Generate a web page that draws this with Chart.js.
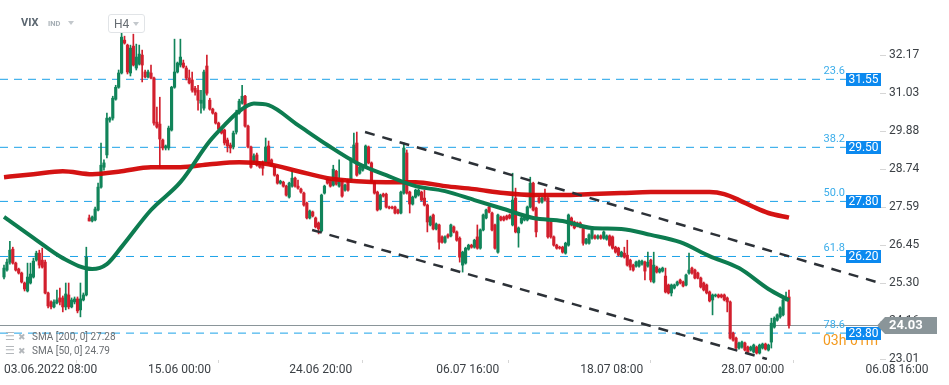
<!DOCTYPE html>
<html><head><meta charset="utf-8">
<script src="https://cdn.jsdelivr.net/npm/chart.js@4.4.0/dist/chart.umd.min.js"></script>
<style>
html,body{margin:0;padding:0;background:#fff;}
#wrap{position:relative;width:949px;height:385px;overflow:hidden;font-family:Roboto,"DejaVu Sans",sans-serif;}
#c{position:absolute;left:0;top:0;}
.abs{position:absolute;white-space:nowrap;}
.tri{position:absolute;width:0;height:0;border-left:3.5px solid transparent;border-right:3.5px solid transparent;border-top:4px solid #c3c8cc;}
.lg{position:absolute;left:32px;font-size:10px;line-height:12px;color:#6a6e72;white-space:nowrap;}
.ic{position:absolute;font-family:"DejaVu Sans",sans-serif;color:#b3b7bb;line-height:12px;}
</style></head><body>
<div id="wrap">
<canvas id="c" width="949" height="385"></canvas>
<div class="abs" style="left:21px;top:16px;font-weight:bold;font-size:11px;line-height:14px;color:#5b6670;">VIX</div>
<div class="abs" style="left:48px;top:19px;font-weight:bold;font-size:7.5px;line-height:10px;color:#a6afb5;">IND</div>
<div class="tri" style="left:68px;top:21px;"></div>
<div class="abs" style="left:108px;top:14px;width:35px;height:17px;border:1px solid #e1e4e7;border-radius:3px;background:#fff;">
  <span class="abs" style="left:5px;top:2px;font-size:12px;line-height:14px;color:#666c72;">H4</span>
  <div class="tri" style="left:24px;top:7px;"></div>
</div>
<div class="ic" style="left:5px;top:331px;font-size:11px;">☰</div>
<div class="ic" style="left:18px;top:331px;font-size:9px;">✖</div>
<div class="lg" id="lg1" style="top:331px;"></div>
<div class="ic" style="left:5px;top:345px;font-size:11px;">☰</div>
<div class="ic" style="left:18px;top:345px;font-size:9px;">✖</div>
<div class="lg" id="lg2" style="top:345px;"></div>
</div>
<script>
// ---- candle data (VIX, H4) ----
const candleOpen = [
25.49,25.70,25.94,26.33,25.91,25.73,25.61,25.31,25.07,25.31,
25.49,26.00,26.21,26.00,25.94,25.01,24.74,24.59,24.71,24.86,
24.86,24.59,24.95,24.59,24.74,24.83,24.50,24.80,24.95,27.27,
27.18,27.21,27.51,28.20,28.80,29.17,30.22,30.28,30.85,31.21,
31.64,32.63,32.48,31.64,32.45,31.79,31.91,32.18,31.67,31.52,
31.64,31.49,30.16,30.10,29.62,29.38,29.38,29.92,31.21,31.67,
31.88,31.94,31.79,31.49,31.43,31.18,31.12,30.73,30.58,31.85,
30.82,30.55,30.43,30.13,29.95,29.92,29.62,29.47,29.41,29.86,
30.43,30.73,30.94,30.04,29.41,28.99,29.17,28.93,28.96,28.96,
29.44,29.02,28.83,28.56,28.32,28.35,28.23,27.90,28.23,28.47,
28.23,28.14,28.02,27.72,27.27,27.45,27.27,27.12,26.88,28.02,
28.44,28.41,28.26,28.68,28.23,28.41,28.11,28.41,28.41,29.02,
29.53,28.62,28.71,28.80,29.41,28.93,28.35,28.05,27.54,27.99,
27.99,27.60,27.60,27.60,27.51,27.42,28.02,29.23,28.05,27.69,
27.90,27.96,28.05,27.87,27.66,27.06,27.36,26.94,27.06,26.70,
26.54,26.76,26.73,27.00,26.85,26.66,25.85,25.91,26.33,26.45,
26.39,26.70,26.36,26.91,27.27,27.60,27.42,27.06,26.24,27.30,
27.30,27.33,27.36,27.06,27.87,26.82,27.12,27.21,27.21,27.60,
28.32,27.57,27.87,27.75,27.90,27.87,27.15,26.70,26.45,26.39,
26.39,26.21,26.45,27.27,27.15,27.12,27.12,27.00,26.51,26.51,
26.66,26.73,26.66,26.73,26.66,26.63,26.73,26.70,26.39,26.36,
26.12,26.21,26.15,26.00,25.85,25.82,25.82,25.88,25.94,25.82,
26.00,25.34,25.79,25.64,25.67,25.52,25.25,25.01,25.16,25.25,
25.40,25.34,25.25,25.61,25.76,25.70,25.61,25.46,25.31,25.25,
25.04,24.80,24.92,24.95,24.95,24.95,24.86,24.74,23.80,23.65,
23.35,23.38,23.50,23.38,23.29,23.23,23.38,23.20,23.35,23.47,
23.29,23.53,23.98,24.19,24.29,24.35,24.80,24.89];
const candleHigh = [
25.85,26.03,26.57,26.39,25.94,25.76,25.64,25.34,25.91,25.91,
26.06,26.27,26.30,26.36,26.00,25.04,24.77,24.80,25.10,25.16,
24.92,25.31,25.31,24.86,24.89,24.89,25.31,25.01,26.39,27.36,
27.33,27.60,28.32,29.53,29.02,30.43,30.31,30.94,31.27,31.73,
32.84,32.75,32.51,32.48,32.81,32.51,32.48,32.33,31.73,31.73,
31.88,31.52,30.61,30.91,29.65,29.47,30.04,31.24,32.66,31.97,
32.66,32.03,31.85,31.73,31.67,31.24,31.27,31.12,31.73,32.18,
30.88,30.58,30.46,30.16,29.98,29.95,29.68,29.53,29.89,30.52,
30.85,31.27,30.97,30.07,29.44,29.20,29.23,28.96,28.99,29.68,
29.59,29.05,28.86,28.59,28.41,28.38,28.26,28.35,28.71,28.50,
28.41,28.17,28.05,27.75,27.51,27.48,27.30,27.15,27.99,28.26,
28.47,28.44,28.86,28.71,29.02,28.44,28.29,28.44,29.08,29.83,
29.86,28.83,28.86,29.47,29.44,28.96,28.38,28.08,27.99,28.02,
28.02,27.63,27.63,27.63,27.54,28.08,29.53,29.32,28.08,27.93,
28.14,28.14,28.08,28.11,27.69,27.33,27.39,27.12,27.09,26.73,
26.73,26.79,27.09,27.03,26.88,26.70,26.27,26.39,26.48,26.48,
26.63,27.06,26.94,27.39,27.54,27.63,27.45,27.09,27.39,27.33,
27.33,27.36,27.39,28.62,28.17,27.00,27.30,27.33,27.63,28.50,
28.35,27.60,27.90,27.90,28.14,27.90,27.18,26.73,26.48,26.42,
26.42,26.54,27.39,27.30,27.18,27.15,27.15,27.03,26.66,26.79,
26.94,26.76,26.76,26.76,26.88,26.76,26.76,26.73,26.42,26.39,
26.27,26.39,26.60,26.03,25.88,25.97,26.00,26.00,25.97,26.24,
26.03,26.24,25.82,25.76,25.79,25.76,25.28,25.28,25.28,25.37,
25.43,25.37,25.58,26.21,25.79,25.73,25.64,25.49,25.34,25.28,
25.07,24.98,24.98,24.98,24.98,24.98,24.89,24.77,23.83,23.68,
23.53,23.56,23.53,23.41,23.41,23.47,23.41,23.47,23.50,23.50,
23.47,24.25,24.29,24.38,24.59,24.86,25.04,25.10];
const candleLow = [
25.43,25.67,25.88,25.88,25.67,25.58,25.31,25.07,25.04,25.28,
25.46,25.97,25.76,25.76,24.98,24.56,24.53,24.56,24.68,24.65,
24.44,24.50,24.53,24.56,24.68,24.41,24.29,24.77,24.92,27.18,
27.15,27.18,27.48,28.17,28.71,29.08,30.16,30.22,30.82,31.18,
31.61,32.51,31.61,31.55,31.85,31.73,31.88,31.37,31.49,31.49,
31.46,30.07,29.98,28.80,29.32,29.32,29.32,29.89,31.18,31.64,
31.82,31.79,31.43,31.31,31.06,30.97,30.52,30.43,30.52,30.97,
30.52,30.40,30.10,29.92,29.80,29.47,29.26,29.23,29.35,29.80,
30.40,30.70,30.01,29.38,28.77,28.93,28.83,28.77,28.56,28.93,
28.90,28.83,28.53,28.29,28.29,28.20,27.93,27.87,28.20,28.20,
28.14,28.02,27.63,27.24,27.24,27.30,26.97,26.79,26.85,27.99,
28.29,28.20,28.23,28.26,28.20,27.90,28.08,28.08,28.38,28.99,
28.53,28.59,28.68,28.77,28.90,28.32,27.99,27.48,27.51,27.90,
27.57,27.54,27.54,27.39,27.39,27.39,27.99,27.99,27.42,27.66,
27.87,27.93,27.78,27.63,26.85,27.03,26.91,26.91,26.33,26.51,
26.51,26.66,26.70,26.82,26.57,25.94,25.64,25.88,26.30,26.36,
26.36,26.33,26.33,26.88,27.24,27.42,26.88,26.33,26.21,27.18,
27.18,27.21,27.24,27.03,26.82,26.39,27.09,27.18,27.18,27.57,
27.48,26.70,27.72,27.72,27.78,26.66,26.66,26.42,26.33,26.33,
26.21,26.18,26.42,27.03,26.94,27.00,26.97,26.45,26.48,26.48,
26.63,26.63,26.63,26.63,26.63,26.60,26.42,26.33,26.21,26.12,
26.09,26.06,25.82,25.70,25.67,25.79,25.79,25.85,25.40,25.79,
25.34,25.31,25.61,25.61,25.64,25.01,24.98,24.92,25.13,25.22,
25.28,25.19,25.22,25.58,25.58,25.43,25.43,25.16,25.07,24.98,
24.74,24.35,24.89,24.86,24.86,24.77,24.44,23.62,23.56,23.32,
23.32,23.35,23.26,23.20,23.26,23.20,23.17,23.17,23.32,23.29,
23.26,23.35,23.95,24.16,24.25,24.32,24.77,23.95];
const candleClose = [
25.76,25.94,26.30,25.91,25.70,25.61,25.34,25.13,25.49,25.58,
25.97,26.21,25.85,25.79,25.01,24.62,24.59,24.74,24.80,24.74,
24.59,24.98,24.59,24.80,24.83,24.47,24.83,24.95,26.09,27.18,
27.30,27.54,28.20,28.86,28.93,30.28,30.28,30.88,31.21,31.64,
32.72,32.54,31.67,32.39,31.88,32.12,32.21,31.88,31.52,31.67,
31.49,30.13,30.01,29.65,29.38,29.44,29.98,31.21,31.67,31.94,
32.12,31.82,31.49,31.34,31.12,31.06,30.82,30.82,31.67,31.03,
30.55,30.43,30.13,29.95,29.83,29.53,29.44,29.38,29.83,30.43,
30.79,30.94,30.04,29.41,28.80,29.14,28.86,28.80,28.77,29.41,
28.93,28.86,28.56,28.32,28.38,28.23,27.96,28.32,28.47,28.23,
28.17,28.05,27.66,27.27,27.48,27.33,27.00,26.94,27.96,28.23,
28.32,28.23,28.74,28.29,28.41,27.93,28.26,28.11,29.02,29.47,
28.56,28.80,28.83,29.44,28.93,28.35,28.02,27.51,27.96,27.93,
27.60,27.57,27.57,27.42,27.42,28.05,29.38,28.02,27.69,27.90,
28.11,28.11,27.81,27.66,27.15,27.30,26.94,27.09,26.54,26.54,
26.70,26.70,27.06,26.85,26.60,26.09,26.24,26.36,26.45,26.39,
26.60,26.36,26.91,27.36,27.51,27.45,26.91,26.36,27.36,27.21,
27.21,27.24,27.27,27.81,26.85,26.97,27.27,27.30,27.60,28.32,
27.51,26.85,27.75,27.87,27.81,26.70,26.70,26.45,26.36,26.36,
26.24,26.51,27.36,27.06,26.97,27.03,27.00,26.51,26.63,26.76,
26.91,26.66,26.73,26.66,26.85,26.73,26.45,26.36,26.24,26.15,
26.24,26.09,25.85,25.79,25.70,25.94,25.97,25.97,25.67,25.94,
25.40,25.85,25.64,25.73,25.76,25.04,25.01,25.25,25.25,25.34,
25.31,25.22,25.55,25.70,25.61,25.46,25.46,25.19,25.10,25.01,
24.77,24.95,24.95,24.89,24.89,24.80,24.74,23.65,23.59,23.35,
23.50,23.53,23.29,23.23,23.38,23.44,23.20,23.44,23.47,23.32,
23.44,24.10,24.25,24.35,24.56,24.80,24.86,24.03];

// ---- moving averages (read at bar positions) ----
const sma200Bars = [0,10,20,30,40,50,60,70,80,90,100,110,120,130,140,150,160,170,180,190,200,210,220,230,240,245,250,255,260,267];
const sma200Vals = [28.50,28.59,28.68,28.59,28.68,28.80,28.80,28.89,28.95,28.89,28.68,28.47,28.38,28.35,28.35,28.23,28.14,28.02,27.96,27.96,27.99,28.02,28.05,28.05,28.05,27.99,27.81,27.60,27.42,27.28];
const sma50Bars = [0,10,20,30,35,40,50,60,70,75,80,85,90,100,110,120,130,140,150,160,170,180,190,200,210,220,230,240,250,260,267];
const sma50Vals = [27.30,26.67,26.06,25.73,25.88,26.40,27.51,28.35,29.59,30.07,30.49,30.72,30.67,30.07,29.47,28.93,28.56,28.23,28.08,27.81,27.54,27.27,27.18,26.97,26.94,26.76,26.54,26.12,25.76,25.13,24.79];

// ---- axes ----
const xTickBars = [0,49,97,147,196,244,293];
const xTickLabels = ['03.06.2022 08:00','15.06 00:00','24.06 20:00','06.07 16:00','18.07 08:00','28.07 00:00','06.08 16:00'];
const yTickVals = [23.01,24.16,25.30,26.45,27.59,28.74,29.88,31.03,32.17];

// ---- Fibonacci retracement ----
const fibRatios = ['23.6','38.2','50.0','61.8','78.6'];
const fibPrices = ['31.55','29.50','27.80','26.20','23.80'];
const fibLevels = [31.45,29.40,27.77,26.11,23.80];

// ---- channel lines (bar, value) ----
const chanUpperBars = [122.8,297.96];
const chanUpperVals = [29.86,25.31];
const chanLowerBars = [104.8,259.5];
const chanLowerVals = [26.91,23.02];

const currentPrice = 24.03;
const countdownText = '03h 01m';

// ---- view config ----
const xMin = -1.36, xMax = 297.96, yMin = 22.99, yMax = 33.84, fibEndBar = 286.4;
const UP = '#11845a', DOWN = '#d21f2d';
const colorFor = ctx => candleClose[ctx.dataIndex] >= candleOpen[ctx.dataIndex] ? UP : DOWN;

document.getElementById('lg1').textContent = 'SMA [200, 0] ' + sma200Vals[sma200Vals.length-1].toFixed(2);
document.getElementById('lg2').textContent = 'SMA [50, 0] ' + sma50Vals[sma50Vals.length-1].toFixed(2);

const overlay = {
  id:'overlay',
  afterDraw(chart){
    const ctx = chart.ctx, ys = chart.scales.y, right = chart.chartArea.right;
    ctx.save();
    ctx.textBaseline = 'middle';
    ctx.font = '14px Roboto';
    ctx.fillStyle = '#f39a1e';
    ctx.textAlign = 'left';
    ctx.fillText(countdownText, right - 57, ys.getPixelForValue(fibLevels[4]) + 8);
    fibLevels.forEach((lv, k) => {
      const py = Math.round(ys.getPixelForValue(lv));
      ctx.font = '11px Roboto';
      ctx.fillStyle = '#3badea';
      ctx.textAlign = 'right';
      ctx.fillText(fibRatios[k], right - 35, py - 8);
      ctx.fillStyle = '#0b89ef';
      ctx.fillRect(right - 34, py - 6, 35, 13);
      ctx.fillStyle = '#ffffff';
      ctx.font = '12px Roboto';
      ctx.textAlign = 'center';
      ctx.fillText(fibPrices[k], right - 16.5, py + 0.5);
    });
    const pp = ys.getPixelForValue(currentPrice);
    ctx.fillStyle = '#8a9599';
    ctx.beginPath();
    ctx.moveTo(right - 3, pp);
    ctx.lineTo(right + 5, pp - 8.5);
    ctx.lineTo(right + 57, pp - 8.5);
    ctx.lineTo(right + 57, pp + 8.5);
    ctx.lineTo(right + 5, pp + 8.5);
    ctx.closePath();
    ctx.fill();
    ctx.fillStyle = '#ffffff';
    ctx.font = 'bold 13px Roboto';
    ctx.textAlign = 'left';
    ctx.fillText(currentPrice.toFixed(2), right + 9, pp + 0.5);
    ctx.restore();
  }
};

const lineDs = (pts, color, width, dash, order, extra) => Object.assign({
  type:'line', data:pts, borderColor:color, borderWidth:width, borderDash:dash || [],
  pointRadius:0, fill:false, order:order
}, extra || {});

const datasets = [];
fibLevels.forEach(lv => datasets.push(lineDs([{x:xMin,y:lv},{x:fibEndBar,y:lv}], '#1ba2e8', 1, [8,6], 10)));
datasets.push(lineDs([{x:xMin,y:currentPrice},{x:xMax,y:currentPrice}], '#8a9599', 1.2, null, 9));
datasets.push({type:'bar', data:candleLow.map((l,i)=>({x:i,y:[l,candleHigh[i]]})), backgroundColor:colorFor, barThickness:1, grouped:false, order:6});
datasets.push({type:'bar', data:candleOpen.map((o,i)=>({x:i,y:[o,candleClose[i]]})), backgroundColor:colorFor, barThickness:2.5, minBarLength:1, grouped:false, order:5});
datasets.push(lineDs(sma200Bars.map((b,k)=>({x:b,y:sma200Vals[k]})), 'rgba(210,6,6,0.95)', 4.5, null, 3, {cubicInterpolationMode:'monotone'}));
datasets.push(lineDs(sma50Bars.map((b,k)=>({x:b,y:sma50Vals[k]})), '#0d7c50', 4, null, 2, {cubicInterpolationMode:'monotone'}));
datasets.push(lineDs(chanUpperBars.map((b,k)=>({x:b,y:chanUpperVals[k]})), '#2c3137', 2.5, [10,8], 1));
datasets.push(lineDs(chanLowerBars.map((b,k)=>({x:b,y:chanLowerVals[k]})), '#2c3137', 2.5, [10,8], 1));

new Chart(document.getElementById('c'), {
  type:'bar',
  data:{datasets},
  options:{
    responsive:false, animation:false, events:[],
    layout:{padding:0},
    plugins:{legend:{display:false}, tooltip:{enabled:false}},
    scales:{
      x:{
        type:'linear', min:xMin, max:xMax, offset:false,
        grid:{display:true, drawOnChartArea:false, drawTicks:true, tickLength:3, color:'#d6d6d6'},
        border:{display:false},
        ticks:{autoSkip:false, maxRotation:0, minRotation:0, align:'start', padding:0, color:'#3c4146',
               font:{family:'Roboto', size:12},
               callback:(v)=>{ const k = xTickBars.indexOf(v); return k >= 0 ? xTickLabels[k] : ''; }},
        afterBuildTicks:(s)=>{ s.ticks = xTickBars.map(v=>({value:v})); },
        afterFit:(s)=>{ s.height = 25; s.paddingLeft = 0; s.paddingRight = 0; }
      },
      y:{
        type:'linear', position:'right', min:yMin, max:yMax,
        grid:{drawOnChartArea:false, drawTicks:true, tickLength:6, color:'#d6d6d6'},
        border:{display:false},
        ticks:{padding:3, color:'#3c4146', font:{family:'Roboto', size:12}, callback:(v)=>Number(v).toFixed(2)},
        afterBuildTicks:(s)=>{ s.ticks = yTickVals.map(v=>({value:v})); },
        afterFit:(s)=>{ s.width = 69; s.paddingTop = 0; s.paddingBottom = 0; }
      }
    }
  },
  plugins:[overlay]
});
</script>
</body></html>
